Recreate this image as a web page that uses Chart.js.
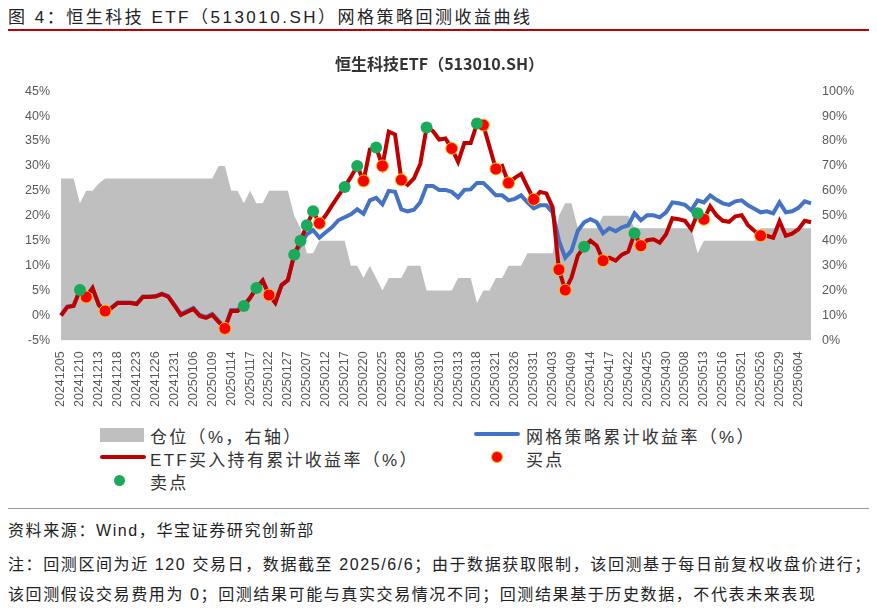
<!DOCTYPE html>
<html>
<head>
<meta charset="utf-8">
<script src="https://cdn.jsdelivr.net/npm/chart.js@4"></script>
<style>
  body { margin: 0; background: #fff; font-family: "Liberation Sans", "Noto Sans CJK SC", sans-serif; width: 877px; height: 608px; overflow: hidden; position: relative; }
  #head { position: absolute; left: 8px; top: 3px; font-size: 17px; letter-spacing: 2.5px; color: #222; }
  #headLine { position: absolute; left: 8px; right: 8px; top: 29px; border-top: 2px solid #c00000; }
  #box { position: absolute; left: 0; top: 40px; width: 877px; height: 370px; }
  .leg { position: absolute; font-size: 17px; letter-spacing: 2.3px; color: #333; }
  .sw { position: absolute; }
  #footLine { position: absolute; left: 8px; right: 8px; top: 508px; border-top: 1px solid #999; }
  .note { position: absolute; left: 8px; font-size: 16px; letter-spacing: 1.6px; color: #222; }
</style>
</head>
<body>
<div id="head">图 4：恒生科技 ETF（513010.SH）网格策略回测收益曲线</div>
<div id="headLine"></div>
<div id="box"><canvas id="graph"></canvas></div>

<div class="sw" style="left:100px;top:428px;width:44px;height:14px;background:#bfbfbf"></div>
<div class="leg" style="left:150px;top:423px">仓位（%，右轴）</div>
<div class="sw" style="left:474px;top:432px;width:46px;height:4px;background:#4472c4;border-radius:2px"></div>
<div class="leg" style="left:526px;top:423px">网格策略累计收益率（%）</div>
<div class="sw" style="left:100px;top:455px;width:46px;height:4px;background:#c00000;border-radius:2px"></div>
<div class="leg" style="left:150px;top:446px">ETF买入持有累计收益率（%）</div>
<div class="sw" style="left:491px;top:451px;width:10px;height:10px;background:#ff0000;border:1px solid #ffc000;border-radius:50%"></div>
<div class="leg" style="left:526px;top:446px">买点</div>
<div class="sw" style="left:114px;top:475px;width:11px;height:11px;background:#1aab5a;border-radius:50%"></div>
<div class="leg" style="left:150px;top:469px">卖点</div>

<div id="footLine"></div>
<div class="note" style="top:517px">资料来源：Wind，华宝证券研究创新部</div>
<div class="note" style="top:551px">注：回测区间为近 120 交易日，数据截至 2025/6/6；由于数据获取限制，该回测基于每日前复权收盘价进行；</div>
<div class="note" style="top:581px">该回测假设交易费用为 0；回测结果可能与真实交易情况不同；回测结果基于历史数据，不代表未来表现</div>

<script>
// tick labels, one every 3 trading days
const tickDates = ["20241205","20241210","20241213","20241218","20241223","20241226","20241231",
  "20250106","20250109","20250114","20250117","20250122","20250127","20250207","20250212",
  "20250217","20250220","20250225","20250228","20250305","20250310","20250313","20250318",
  "20250321","20250326","20250331","20250403","20250409","20250414","20250417","20250422",
  "20250425","20250430","20250508","20250513","20250516","20250521","20250526","20250529","20250604"];

// ETF buy & hold cumulative return (%)
const etfReturn = [0,1.7,1.9,5.1,3.7,5.5,2.1,0.9,1.5,2.5,
  2.5,2.5,2.3,3.7,3.7,3.8,4.3,3.8,2.0,0.1,
  0.7,1.3,-0.1,-0.5,0.1,-1.3,-2.6,0.9,0.9,1.9,
  3.5,5.5,7.0,4.1,2.5,6.1,7.1,12.2,15.0,18.1,
  20.9,18.5,20.1,22.1,24.0,25.8,27.8,30.0,27.0,33.3,
  33.7,30.0,36.9,36.3,27.2,26.2,27.5,30.4,37.7,37.0,
  35.3,35.5,33.5,30.8,34.6,34.6,38.5,38.2,33.8,29.4,
  30.0,26.6,27.6,28.4,25.8,23.3,24.8,24.5,21.7,9.2,
  5.1,7.6,12.0,13.8,15.0,14.0,11.0,11.6,11.0,12.2,
  12.8,16.5,14.0,15.1,15.3,14.6,16.3,19.5,19.3,19.0,
  17.3,20.5,19.3,21.9,20.1,19.0,18.8,19.9,20.1,18.1,
  17.0,16.0,16.0,15.6,18.9,16.0,16.4,17.3,19.0,18.7];

// grid strategy cumulative return (%)
const gridReturn = [0,1.8,2.0,5.1,3.8,5.5,2.2,1.0,1.6,2.6,
  2.6,2.6,2.4,3.8,3.8,3.9,4.4,3.9,2.1,0.3,
  0.9,1.5,0.1,-0.3,0.3,-1.1,-2.4,1.1,1.1,2.0,
  3.6,5.5,7.0,4.2,2.6,6.1,7.1,12.2,14.2,16.3,
  17.1,15.6,16.7,17.7,19.1,19.7,20.3,21.3,20.4,23.1,
  23.6,22.3,25.0,24.8,21.3,20.9,21.2,22.7,26.0,26.0,
  25.2,25.2,24.8,23.7,25.2,25.3,26.6,26.6,25.4,24.1,
  24.1,23.1,23.4,24.1,22.7,21.5,22.1,22.1,20.7,15.0,
  11.6,13.0,17.0,18.7,19.3,18.7,16.5,17.5,16.9,17.7,
  18.1,20.5,19.1,20.1,20.1,19.7,20.7,22.7,22.5,22.2,
  21.1,23.1,22.7,24.1,23.2,22.5,22.2,22.9,23.1,22.1,
  21.4,20.7,20.9,20.5,22.7,20.7,20.9,21.6,22.9,22.5];

// position (%, right axis)
const position = [65,65,65,55,60,60,63,65,65,65,
  65,65,65,65,65,65,65,65,65,65,
  65,65,65,65,65,70,70,60,60,55,
  60,55,55,60,60,60,60,50,45,35,
  35,40,40,40,40,40,30,30,25,30,
  25,20,25,25,25,30,30,30,20,20,
  20,20,20,25,25,25,15,20,20,25,
  25,30,30,30,35,35,35,35,35,50,
  55,55,45,45,45,45,50,50,50,50,
  50,45,45,45,45,45,45,45,45,45,
  45,35,40,40,40,40,40,40,40,40,
  40,45,45,45,45,45,45,45,45,45];

// trading-day indexes of buy / sell signals
const buyIdx = [4,7,26,33,41,48,51,54,62,67,69,71,75,79,80,86,92,102,111];
const sellIdx = [3,29,31,37,38,39,40,45,47,50,58,66,83,91,101];

const days = etfReturn.map((v, i) => i);
const buyPts = etfReturn.map((v, i) => buyIdx.includes(i) ? v : null);
const sellPts = etfReturn.map((v, i) => sellIdx.includes(i) ? v : null);

const tickFont = { family: "Liberation Sans", size: 12.5 };

new Chart(document.getElementById("graph"), {
  type: "line",
  data: {
    labels: days,
    datasets: [
      { label: "卖点", data: sellPts, showLine: false, pointRadius: 6, pointBackgroundColor: "#1aab5a",
        pointBorderWidth: 0, yAxisID: "y", order: 0 },
      { label: "买点", data: buyPts, showLine: false, pointRadius: 6, pointBackgroundColor: "#ff0000",
        pointBorderColor: "#ffc000", pointBorderWidth: 1, yAxisID: "y", order: 1 },
      { label: "ETF", data: etfReturn, borderColor: "#c00000", borderWidth: 4, pointRadius: 0,
        yAxisID: "y", order: 2 },
      { label: "网格", data: gridReturn, borderColor: "#4472c4", borderWidth: 4, pointRadius: 0,
        yAxisID: "y", order: 3 },
      { label: "仓位", data: position, borderWidth: 0, pointRadius: 0, fill: "origin",
        backgroundColor: "#bfbfbf", yAxisID: "y1", order: 4 }
    ]
  },
  options: {
    animation: false,
    responsive: true,
    maintainAspectRatio: false,
    layout: { padding: { left: 22, right: 20, top: 0 } },
    plugins: {
      legend: { display: false },
      tooltip: { enabled: false },
      title: { display: true, text: "恒生科技ETF（513010.SH）", color: "#333",
        font: { family: "Noto Sans CJK SC", size: 16, weight: "bold" }, padding: { top: 14, bottom: 18 } }
    },
    scales: {
      x: {
        offset: false,
        grid: { display: false },
        border: { display: false },
        ticks: {
          autoSkip: false, maxRotation: 90, minRotation: 90, color: "#595959", font: tickFont,
          callback: (v, i) => i % 3 === 0 ? tickDates[i / 3] : null
        }
      },
      y: {
        position: "left", min: -5, max: 45,
        grid: { display: false }, border: { display: false },
        ticks: { stepSize: 5, color: "#595959", font: tickFont, callback: v => v + "%" }
      },
      y1: {
        position: "right", min: 0, max: 100,
        grid: { display: false }, border: { display: false },
        ticks: { stepSize: 10, color: "#595959", font: tickFont, callback: v => v + "%" }
      }
    }
  }
});
</script>
</body>
</html>
